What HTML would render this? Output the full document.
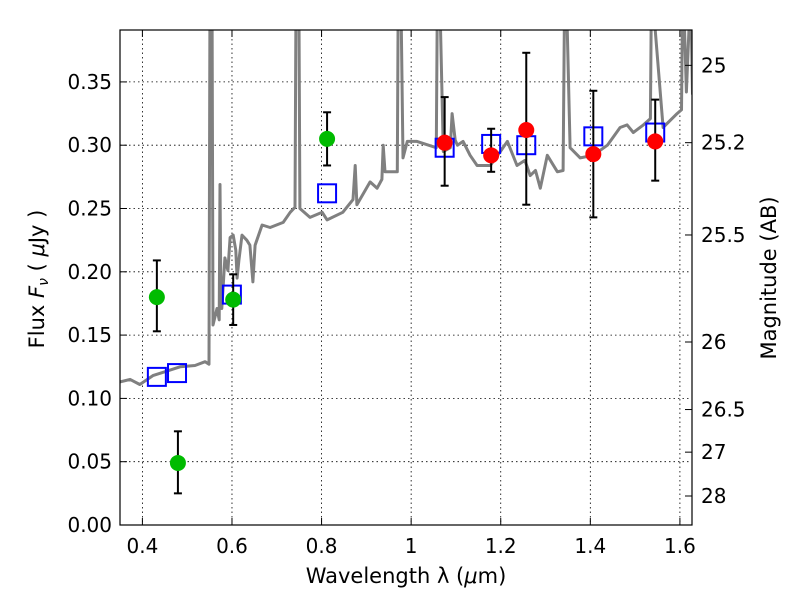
<!DOCTYPE html>
<html><head><meta charset="utf-8"><style>
body{margin:0;background:#fff}
svg text{font-family:"DejaVu Sans","Liberation Sans",sans-serif;fill:#000}
</style></head><body>
<svg id="chart" width="800" height="600">
<defs><clipPath id="clip"><rect x="120" y="30" width="572" height="495"/></clipPath></defs>
<g id="grid"></g>
<g id="spec" clip-path="url(#clip)"></g>
<g id="marks" clip-path="url(#clip)"></g>
<rect x="120" y="30" width="572" height="495" fill="none" stroke="#000" stroke-width="1.2"/>
<g id="axes"></g>
<text x="406" y="583" font-size="21" text-anchor="middle">Wavelength  λ (<tspan font-style="italic">μ</tspan>m)</text>
<text transform="translate(44,279) rotate(-90)" font-size="21" text-anchor="middle">Flux  <tspan font-style="italic">F</tspan><tspan font-style="italic" font-size="14" dy="4">ν</tspan><tspan dy="-4">  ( </tspan><tspan font-style="italic">μ</tspan>Jy )</text>
<text transform="translate(776,278) rotate(-90)" font-size="21" text-anchor="middle">Magnitude (AB)</text>
</svg>
<script>
const specWave=[0.3500,0.3725,0.3941,0.4235,0.4499,0.4842,0.5175,0.5400,0.5488,0.5508,0.5557,0.5576,0.5665,0.5714,0.5733,0.5753,0.5772,0.5841,0.5909,0.5958,0.6027,0.6086,0.6115,0.6154,0.6223,0.6331,0.6399,0.6468,0.6517,0.6673,0.6850,0.7143,0.7300,0.7408,0.7428,0.7496,0.7516,0.7741,0.8015,0.8123,0.8475,0.8701,0.8750,0.8789,0.9083,0.9239,0.9347,0.9377,0.9416,0.9690,0.9709,0.9778,0.9817,0.9915,1.0131,1.0562,1.0581,1.0650,1.0718,1.0875,1.0914,1.0983,1.1032,1.1159,1.1316,1.1473,1.1766,1.1992,1.2148,1.2364,1.2540,1.2658,1.2775,1.2883,1.3039,1.3265,1.3392,1.3421,1.3480,1.3549,1.3774,1.4067,1.4381,1.4665,1.4822,1.4959,1.5184,1.5341,1.5360,1.5429,1.5625,1.5938,1.6036,1.6056,1.6095,1.6144,1.6213,1.6252,1.6281];
const specFlux=[0.113,0.115,0.111,0.118,0.121,0.125,0.126,0.129,0.127,0.40,0.40,0.158,0.171,0.162,0.269,0.178,0.171,0.211,0.201,0.227,0.229,0.217,0.195,0.209,0.229,0.225,0.221,0.192,0.221,0.237,0.235,0.239,0.247,0.251,0.40,0.40,0.250,0.243,0.247,0.241,0.247,0.257,0.284,0.253,0.271,0.266,0.273,0.300,0.279,0.279,0.40,0.40,0.290,0.303,0.303,0.298,0.40,0.40,0.295,0.298,0.325,0.304,0.300,0.303,0.292,0.284,0.284,0.295,0.303,0.284,0.288,0.276,0.280,0.266,0.292,0.279,0.280,0.40,0.40,0.298,0.290,0.292,0.300,0.314,0.316,0.310,0.316,0.321,0.40,0.40,0.314,0.325,0.328,0.40,0.40,0.342,0.40,0.40,0.340];
const greenWave=[0.4323,0.4793,0.6027,0.8123];
const greenFlux=[0.180,0.049,0.178,0.305];
const greenHi=[0.209,0.074,0.198,0.326];
const greenLo=[0.153,0.025,0.158,0.284];
const redWave=[1.0748,1.1786,1.2570,1.4067,1.5449];
const redFlux=[0.302,0.292,0.312,0.293,0.303];
const redHi=[0.338,0.313,0.373,0.343,0.336];
const redLo=[0.268,0.279,0.253,0.243,0.272];
const modelWave=[0.4323,0.4773,0.5998,0.8123,1.0748,1.1786,1.2570,1.4067,1.5449];
const modelFlux=[0.117,0.120,0.182,0.262,0.298,0.301,0.300,0.307,0.310];
const xTicks=[0.4,0.6,0.8,1.0,1.2,1.4,1.6];
const xTickLabels=["0.4","0.6","0.8","1","1.2","1.4","1.6"];
const yTicks=[0,0.05,0.10,0.15,0.20,0.25,0.30,0.35];
const yTickLabels=["0.00","0.05","0.10","0.15","0.20","0.25","0.30","0.35"];
const magTicks=[25,25.2,25.5,26,26.5,27,28];
const magTickLabels=["25","25.2","25.5","26","26.5","27","28"];

const X0=120,X1=692,Y0=525,Y1=30,xmin=0.350,xmax=1.627,ymin=0,ymax=0.391;
const sx=v=>X0+(v-xmin)/(xmax-xmin)*(X1-X0);
const sy=v=>Y0-(v-ymin)/(ymax-ymin)*(Y0-Y1);
const NS="http://www.w3.org/2000/svg";
function mk(tag,attrs,parent){const e=document.createElementNS(NS,tag);for(const k in attrs)e.setAttribute(k,attrs[k]);parent.appendChild(e);return e;}
const grid=document.getElementById('grid'),axes=document.getElementById('axes'),spec=document.getElementById('spec'),marks=document.getElementById('marks');

xTicks.forEach((t,i)=>{const x=sx(t);
 const g=mk('line',{x1:x,x2:x,y1:Y1,y2:Y0,stroke:'#000','stroke-dasharray':'1.5,3','stroke-width':0.8},grid);
 
 
 mk('line',{x1:x,x2:x,y1:Y0,y2:Y0-7,stroke:'#000'},axes);
 mk('line',{x1:x,x2:x,y1:Y1,y2:Y1+7,stroke:'#000'},axes);
 const tx=mk('text',{x:x,y:Y0+28,'font-size':20,'text-anchor':'middle'},axes);tx.textContent=xTickLabels[i];
 
 
});
yTicks.forEach((t,i)=>{const y=sy(t);
 const g=mk('line',{x1:X0,x2:X1,y1:y,y2:y,stroke:'#000','stroke-dasharray':'1.5,3','stroke-width':0.8},grid);
 
 
 mk('line',{x1:X0,x2:X0+7,y1:y,y2:y,stroke:'#000'},axes);
 const tx=mk('text',{x:X0-8,y:y+7,'font-size':20,'text-anchor':'end'},axes);tx.textContent=yTickLabels[i];
 
 
});
magTicks.forEach((m,i)=>{const y=sy(Math.pow(10,(23.9-m)/2.5));
 mk('line',{x1:X1,x2:X1-7,y1:y,y2:y,stroke:'#000'},axes);
 const tx=mk('text',{x:X1+9,y:y+7,'font-size':20},axes);tx.textContent=magTickLabels[i];
 
 
});
const pts=specWave.map((w,i)=>sx(w).toFixed(1)+','+sy(specFlux[i]).toFixed(1)).join(' ');
const pl=mk('polyline',{points:pts,fill:'none',stroke:'#808080','stroke-width':3,'stroke-linejoin':'round'},spec);



function errbar(w,hi,lo){const x=sx(w);
 mk('line',{x1:x,x2:x,y1:sy(hi),y2:sy(lo),stroke:'#000','stroke-width':2},marks);
 mk('line',{x1:x-4,x2:x+4,y1:sy(hi),y2:sy(hi),stroke:'#000','stroke-width':2},marks);
 mk('line',{x1:x-4,x2:x+4,y1:sy(lo),y2:sy(lo),stroke:'#000','stroke-width':2},marks);}
modelWave.forEach((w,i)=>{const s=mk('rect',{x:sx(w)-9,y:sy(modelFlux[i])-9,width:18,height:18,fill:'none',stroke:'#0000ff','stroke-width':2},marks);
 
 });
greenWave.forEach((w,i)=>{errbar(w,greenHi[i],greenLo[i]);
 const c=mk('circle',{cx:sx(w),cy:sy(greenFlux[i]),r:8,fill:'#00bb00'},marks);
 
 });
redWave.forEach((w,i)=>{errbar(w,redHi[i],redLo[i]);
 const c=mk('circle',{cx:sx(w),cy:sy(redFlux[i]),r:8,fill:'#ff0000'},marks);
 
 });
</script>
</body></html>
